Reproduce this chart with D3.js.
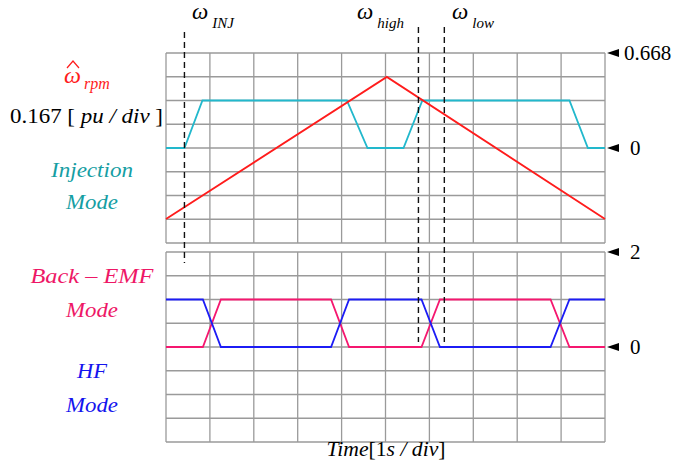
<!DOCTYPE html>
<html>
<head>
<meta charset="utf-8">
<script src="https://cdn.jsdelivr.net/npm/d3@7"></script>
<style>
  body { margin: 0; background: #fff; }
  text { font-family: "Liberation Serif", "DejaVu Serif", serif; }
</style>
</head>
<body>
<div id="chart"></div>
<script>
// time axis, 1 s per division
var timeTicks = [0, 1, 2, 3, 4, 5, 6, 7, 8, 9, 10];

// speed estimate [pu], 0.167 pu/div
var rpmTime  = [0, 5.03, 10];
var rpmValue = [-0.5, 0.5, -0.5];

// injection mode flag (top panel)
var injTime  = [0, 0.42, 0.83, 4.12, 4.59, 5.41, 5.84, 9.19, 9.61, 10];
var injValue = [0, 0, 0.334, 0.334, 0, 0, 0.334, 0.334, 0, 0];

// back-EMF mode and HF mode (bottom panel)
var modeTime  = [0, 0.84, 1.25, 3.76, 4.17, 5.82, 6.24, 8.76, 9.19, 10];
var bemfValue = [0, 0, 1, 1, 0, 0, 1, 1, 0, 0];
var hfValue   = [1, 1, 0, 0, 1, 1, 0, 0, 1, 1];

// speed thresholds (dashed markers)
var omegaTime  = [0.42, 5.75, 6.34];
var omegaLabel = ["INJ", "high", "low"];

// right side level markers
var topMarks = [0.668, 0];
var botMarks = [2, 0];

function init(){
    var w = 676;
    var h = 471;

    var svg = d3.select("#chart")
                .append("svg")
                .attr("width", w)
                .attr("height", h);

    var x = d3.scaleLinear().domain([0, 10]).range([166, 605]);
    var yTop = d3.scaleLinear().domain([-0.668, 0.668]).range([243, 53]);
    var yBot = d3.scaleLinear().domain([-2, 2]).range([442, 252]);

    var gridColor = "#9a9a9a";

    // grid for both panels
    function grid(y, lo, hi){
        var g = svg.append("g");
        var hTicks = d3.range(0, 9).map(function(i){ return lo + i * (hi - lo) / 8; });
        g.selectAll("line.h")
         .data(hTicks)
         .enter()
         .append("line")
         .attr("x1", x(0))
         .attr("x2", x(10))
         .attr("y1", function(d){ return y(d); })
         .attr("y2", function(d){ return y(d); })
         .attr("stroke", gridColor)
         .attr("stroke-width", 1.3);
        g.selectAll("line.v")
         .data(timeTicks)
         .enter()
         .append("line")
         .attr("x1", function(d){ return x(d); })
         .attr("x2", function(d){ return x(d); })
         .attr("y1", y(lo))
         .attr("y2", y(hi))
         .attr("stroke", gridColor)
         .attr("stroke-width", 1.3);
    }
    grid(yTop, -0.668, 0.668);
    grid(yBot, -2, 2);

    function trace(times, values, y, color){
        var line = d3.line()
                     .x(function(d){ return x(d[0]); })
                     .y(function(d){ return y(d[1]); });
        svg.append("path")
           .datum(d3.zip(times, values))
           .attr("d", line)
           .attr("fill", "none")
           .attr("stroke", color)
           .attr("stroke-width", 1.8);
    }
    trace(injTime, injValue, yTop, "#22b8cc");
    trace(rpmTime, rpmValue, yTop, "#ff1c1c");
    trace(modeTime, bemfValue, yBot, "#f5176f");
    trace(modeTime, hfValue, yBot, "#1c1cf5");

    // dashed threshold markers
    var dashEnd = [263, 342, 342];
    var dashStart = [32, 27, 27];
    svg.selectAll("line.dash")
       .data(omegaTime)
       .enter()
       .append("line")
       .attr("x1", function(d){ return x(d); })
       .attr("x2", function(d){ return x(d); })
       .attr("y1", function(d, i){ return dashStart[i]; })
       .attr("y2", function(d, i){ return dashEnd[i]; })
       .attr("stroke", "#111")
       .attr("stroke-width", 1.4)
       .attr("stroke-dasharray", "6,4");

    var labelX = [192, 357, 452];
    var om = svg.selectAll("text.om")
       .data(omegaLabel)
       .enter()
       .append("text")
       .attr("x", function(d, i){ return labelX[i]; })
       .attr("y", 19)
       .style("font-size", "23px")
       .style("font-style", "italic");
    om.append("tspan").text("\u03c9");
    om.append("tspan")
      .attr("dx", 4)
      .attr("dy", 9)
      .style("font-size", "15px")
      .text(function(d){ return d; });

    // right side markers
    function marks(data, y){
        svg.selectAll(null)
           .data(data)
           .enter()
           .append("path")
           .attr("d", function(d){
               var yy = y(d);
               return "M607," + yy + "L619," + (yy - 4) + "L619," + (yy + 4) + "Z";
           })
           .attr("fill", "#000");
        svg.selectAll(null)
           .data(data)
           .enter()
           .append("text")
           .attr("x", function(d){ return d === 0 || d === 2 ? 630 : 624; })
           .attr("y", function(d){ return y(d) + 7; })
           .text(function(d){ return d; })
           .style("font-size", "21px");
    }
    marks(topMarks, yTop);
    marks(botMarks, yBot);

    // left labels
    var cx = 92;
    svg.append("path")
       .attr("d", "M67,68L73,61L79,68")
       .attr("fill", "none")
       .attr("stroke", "#ff1c1c")
       .attr("stroke-width", 1.2);
    var rpm = svg.append("text")
       .attr("x", 64).attr("y", 83)
       .attr("fill", "#ff1c1c")
       .style("font-style", "italic")
       .style("font-size", "24px");
    rpm.append("tspan").text("\u03c9");
    rpm.append("tspan").attr("dx", 3).attr("dy", 6).style("font-size", "16px").text("rpm");

    var scaleTxt = svg.append("text")
       .attr("x", 10).attr("y", 123)
       .attr("textLength", 153)
       .attr("lengthAdjust", "spacingAndGlyphs")
       .style("font-size", "20px");
    scaleTxt.append("tspan").text("0.167 [ ");
    scaleTxt.append("tspan").style("font-style", "italic").text("pu / div");
    scaleTxt.append("tspan").text(" ]");

    var leftLabels = [
        { t: "Injection", y: 177, c: "#159ea3", len: 82 },
        { t: "Mode", y: 209, c: "#159ea3", len: 52 },
        { t: "Back \u2013 EMF", y: 283, c: "#ee1766", len: 123 },
        { t: "Mode", y: 317, c: "#ee1766", len: 52 },
        { t: "HF", y: 378, c: "#1414ee", len: 30 },
        { t: "Mode", y: 412, c: "#1414ee", len: 52 }
    ];
    svg.selectAll("text.lab")
       .data(leftLabels)
       .enter()
       .append("text")
       .attr("x", cx)
       .attr("y", function(d){ return d.y; })
       .attr("text-anchor", "middle")
       .attr("textLength", function(d){ return d.len; })
       .attr("lengthAdjust", "spacingAndGlyphs")
       .attr("fill", function(d){ return d.c; })
       .style("font-style", "italic")
       .style("font-size", "21px")
       .text(function(d){ return d.t; });

    // x axis title
    var xt = svg.append("text")
       .attr("x", 386).attr("y", 456)
       .attr("text-anchor", "middle")
       .attr("textLength", 119)
       .attr("lengthAdjust", "spacingAndGlyphs")
       .style("font-size", "21px");
    xt.append("tspan").style("font-style", "italic").text("Time");
    xt.append("tspan").text("[1");
    xt.append("tspan").style("font-style", "italic").text("s / div");
    xt.append("tspan").text("]");
}

window.onload = init;
</script>
</body>
</html>
